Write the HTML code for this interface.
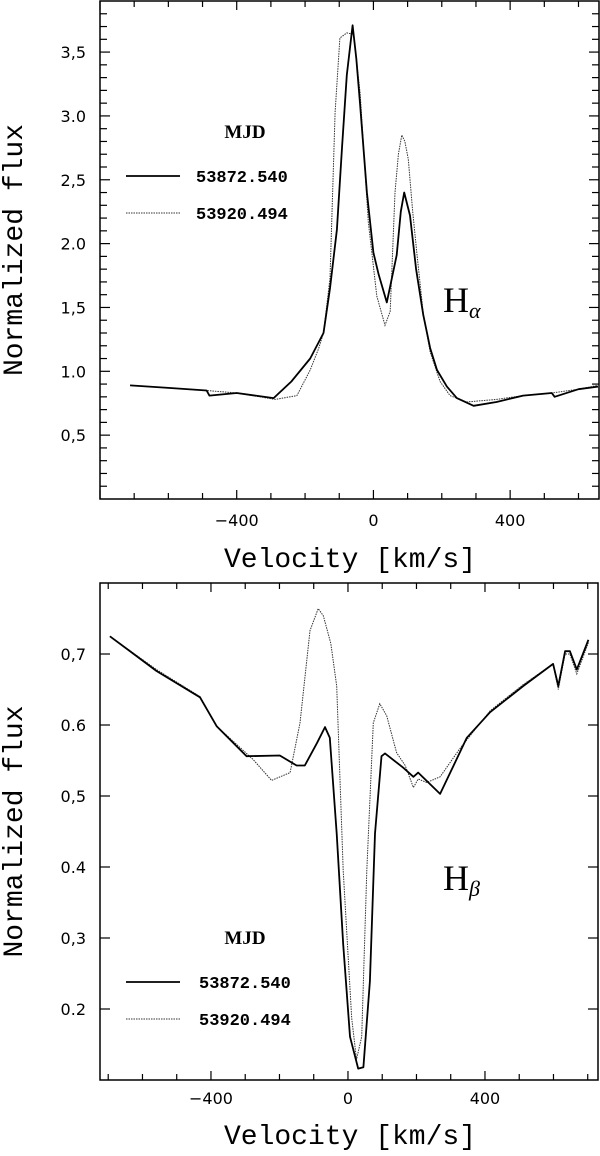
<!DOCTYPE html>
<html><head><meta charset="utf-8"><style>
html,body{margin:0;padding:0;background:#fff;}
svg{display:block;}
.tk{font-family:"DejaVu Sans","Liberation Sans",sans-serif;font-size:16px;fill:#000;}
.ax{font-family:"Liberation Mono",monospace;font-size:28px;fill:#000;}
.lg{font-family:"Liberation Mono",monospace;font-size:17px;font-weight:bold;fill:#000;}
.lt{font-family:"Liberation Serif",serif;font-size:19px;font-weight:bold;fill:#000;}
.ln{font-family:"Liberation Serif",serif;font-size:36px;fill:#000;}
</style></head><body>
<svg id="chart" width="600" height="1156" viewBox="0 0 600 1156" xmlns="http://www.w3.org/2000/svg"></svg>
<script>
// H-alpha data
const haSolidV=[-712,-600,-488,-480,-400,-292,-240,-185,-146,-127,-107,-92,-78,-61,-50,-39,-19,0,15,39,54,68,80,90,107,125,146,166,186,215,244,293,360,438,522,530,600,657];
const haSolidF=[0.89,0.87,0.85,0.81,0.83,0.79,0.92,1.10,1.30,1.65,2.11,2.75,3.32,3.71,3.45,3.09,2.40,1.93,1.76,1.54,1.73,1.91,2.25,2.40,2.22,1.80,1.44,1.18,1.01,0.88,0.79,0.73,0.76,0.81,0.83,0.80,0.86,0.88];
const haDotV=[-712,-600,-488,-400,-287,-224,-185,-160,-146,-127,-112,-98,-78,-58,-39,-15,10,34,49,63,73,83,92,102,115,127,146,166,195,224,273,360,438,522,600,657];
const haDotF=[0.89,0.87,0.85,0.83,0.78,0.81,1.01,1.18,1.30,1.73,3.03,3.61,3.65,3.64,3.18,2.17,1.59,1.36,1.47,2.40,2.70,2.85,2.80,2.66,2.25,1.93,1.45,1.15,0.92,0.81,0.76,0.78,0.81,0.83,0.86,0.89];
// H-beta data
const hbSolidV=[-695,-559,-432,-383,-296,-199,-150,-126,-90,-67,-53,-33,-14,6,30,45,64,79,98,108,161,191,205,269,347,415,512,599,614,634,648,668,702];
const hbSolidF=[0.725,0.676,0.639,0.598,0.556,0.557,0.543,0.543,0.575,0.597,0.582,0.447,0.291,0.161,0.116,0.118,0.239,0.447,0.556,0.560,0.540,0.527,0.533,0.503,0.582,0.618,0.655,0.686,0.655,0.704,0.704,0.678,0.720];
const hbDotV=[-695,-559,-432,-383,-330,-276,-223,-169,-140,-111,-87,-72,-50,-33,-14,11,25,40,55,74,93,113,142,167,191,205,230,269,327,415,512,599,614,634,648,668,702];
const hbDotF=[0.725,0.678,0.640,0.598,0.575,0.551,0.522,0.533,0.603,0.733,0.764,0.754,0.715,0.655,0.395,0.187,0.129,0.161,0.395,0.603,0.630,0.613,0.561,0.543,0.512,0.524,0.519,0.527,0.567,0.620,0.657,0.686,0.650,0.700,0.700,0.672,0.716];
const xTickLabels=["−400","0","400"];
const xTickVals=[-400,0,400];
const haYTickVals=[0.5,1.0,1.5,2.0,2.5,3.0,3.5];
const haYTickLabels=["0,5","1.0","1,5","2.0","2,5","3.0","3,5"];
const hbYTickVals=[0.2,0.3,0.4,0.5,0.6,0.7];
const hbYTickLabels=["0.2","0,3","0.4","0,5","0.6","0,7"];
const legendLabels=["53872.540","53920.494"];

const NS="http://www.w3.org/2000/svg";
const svg=document.getElementById('chart');
function mk(tag,attrs,parent){const e=document.createElementNS(NS,tag);for(const k in attrs)e.setAttribute(k,attrs[k]);(parent||svg).appendChild(e);return e;}

function panel(cfg){
  const g=mk('g',{});
  
  
  const X=v=>cfg.x0+(v-cfg.vmin)/(cfg.vmax-cfg.vmin)*(cfg.x1-cfg.x0);
  const Y=f=>cfg.y1-(f-cfg.fmin)/(cfg.fmax-cfg.fmin)*(cfg.y1-cfg.y0);
  const fr=mk('rect',{x:cfg.x0,y:cfg.y0,width:cfg.x1-cfg.x0,height:cfg.y1-cfg.y0,fill:'none',stroke:'#000','stroke-width':1.5},g);
  
  
  for(let v=Math.ceil(cfg.vmin/100)*100;v<=cfg.vmax;v+=100){
    const maj=v%400===0, L=maj?9:6;
    mk('line',{x1:X(v),x2:X(v),y1:cfg.y1,y2:cfg.y1-L,stroke:'#000','stroke-width':1.2},g);
    mk('line',{x1:X(v),x2:X(v),y1:cfg.y0,y2:cfg.y0+L,stroke:'#000','stroke-width':1.2},g);
  }
  xTickVals.forEach((v,i)=>{const t=mk('text',{x:X(v),y:cfg.y1+cfg.tkOff,'text-anchor':'middle',class:'tk'},g);t.textContent=xTickLabels[i];
    
    });
  for(let f=cfg.fmin+cfg.yminor;f<cfg.fmax-1e-6;f+=cfg.yminor){
    const fr2=Math.round(f/cfg.ymajor*1000)/1000; const maj=Math.abs(fr2-Math.round(fr2))<1e-3; const L=maj?10:7;
    mk('line',{x1:cfg.x0,x2:cfg.x0+L,y1:Y(f),y2:Y(f),stroke:'#000','stroke-width':1.2},g);
    mk('line',{x1:cfg.x1,x2:cfg.x1-L,y1:Y(f),y2:Y(f),stroke:'#000','stroke-width':1.2},g);
  }
  cfg.ytv.forEach((f,i)=>{const t=mk('text',{x:cfg.x0-14,y:Y(f)+6,'text-anchor':'end',class:'tk'},g);t.textContent=cfg.ytl[i];
    
    });
  const path=(V,F)=>V.map((v,i)=>(i?'L':'M')+X(v).toFixed(1)+' '+Y(F[i]).toFixed(1)).join(' ');
  const d=mk('path',{d:path(cfg.dv,cfg.df),fill:'none',stroke:'#333','stroke-width':1,'stroke-dasharray':'1.5 1'},g);
  
  
  const s=mk('path',{d:path(cfg.sv,cfg.sf),fill:'none',stroke:'#000','stroke-width':1.8,'stroke-linejoin':'round'},g);
  
  
  const xt=mk('text',{x:350,y:cfg.y1+cfg.axOff,'text-anchor':'middle',class:'ax'},g);xt.textContent='Velocity [km/s]';
  
  
  const yc=(cfg.y0+cfg.y1)/2;
  const yt=mk('text',{x:0,y:0,'text-anchor':'middle',class:'ax',transform:`translate(22,${yc}) rotate(-90)`},g);yt.textContent='Normalized flux';
  
  
  const lg=mk('g',{},g);
  
  
  const m=mk('text',{x:245,y:cfg.legY+7,'text-anchor':'middle',class:'lt'},lg);m.textContent='MJD';
  
  
  [0,1].forEach(i=>{const yy=cfg.legY+45+i*37;
    mk('line',{x1:126,x2:180,y1:yy,y2:yy,stroke:i?'#333':'#000','stroke-width':i?1:1.8,'stroke-dasharray':i?'1.5 1':'none'},lg);
    const t=mk('text',{x:cfg.legTx,y:yy+6,class:'lg'},lg);t.textContent=legendLabels[i];
    
    });
  const ll=mk('text',{x:443,y:cfg.lblY,class:'ln'},g);
  
  
  ll.textContent='H';
  const sub=mk('tspan',{'font-size':'22','font-style':'italic',dy:'6'},ll);sub.textContent=cfg.sub;
}
panel({name:'h-alpha-panel',x0:100,x1:599,y0:1,y1:499,vmin:-800,vmax:660,fmin:0,fmax:3.9,yminor:0.1,ymajor:0.5,tkOff:27,axOff:68,
  ytv:haYTickVals,ytl:haYTickLabels,sv:haSolidV,sf:haSolidF,dv:haDotV,df:haDotF,legY:131,legTx:196,lblY:312,sub:'α'});
panel({name:'h-beta-panel',x0:100,x1:598,y0:583,y1:1080,vmin:-724,vmax:730,fmin:0.1,fmax:0.8,yminor:0.1,ymajor:0.1,tkOff:24,axOff:64,
  ytv:hbYTickVals,ytl:hbYTickLabels,sv:hbSolidV,sf:hbSolidF,dv:hbDotV,df:hbDotF,legY:937,legTx:199,lblY:890,sub:'β'});
</script>
</body></html>
